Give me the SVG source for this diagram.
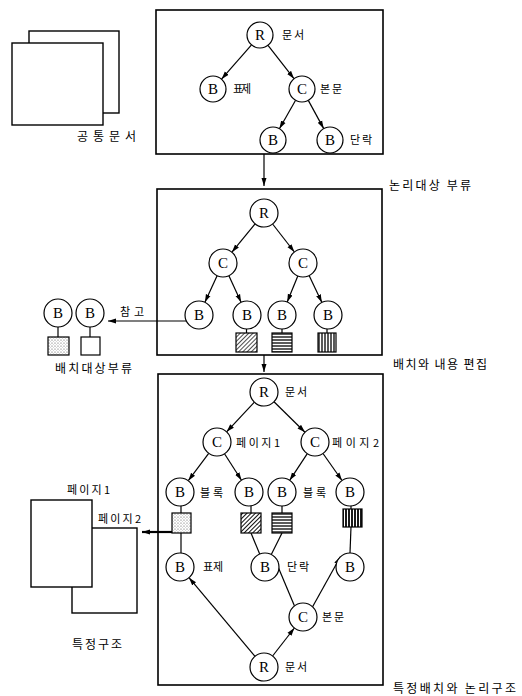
<svg xmlns="http://www.w3.org/2000/svg" width="522" height="696" viewBox="0 0 522 696">
<style>
.box{fill:none;stroke:#000;stroke-width:1.6}
.pg{fill:#fff;stroke:#000;stroke-width:1.4}
.nd{fill:#fff;stroke:#000;stroke-width:1.2}
.ed{fill:none;stroke:#000;stroke-width:1.2}
.ar{fill:none;stroke:#000;stroke-width:1.2;marker-end:url(#ah)}
.sq{stroke:#000;stroke-width:1.2}
.lt{font-family:"Liberation Serif",serif;font-size:15px;text-anchor:middle;dominant-baseline:central}
.kr{font-family:"Noto Sans CJK KR","Noto Sans",sans-serif;font-size:11px}
.kc{font-family:"Noto Sans CJK KR","Noto Sans",sans-serif;font-size:12px}
</style>
<defs>
<marker id="ah" viewBox="0 0 8 6" refX="8" refY="3" markerWidth="8" markerHeight="6" markerUnits="userSpaceOnUse" orient="auto"><path d="M0,0.5 L8,3 L0,5.5 z" fill="#000"/></marker>
<pattern id="diag" width="3" height="3" patternUnits="userSpaceOnUse" patternTransform="rotate(45)"><rect width="3" height="3" fill="#fff"/><line x1="0" y1="0" x2="0" y2="3" stroke="#000" stroke-width="1.4"/></pattern>
<pattern id="diag2" width="3" height="3" patternUnits="userSpaceOnUse" patternTransform="rotate(45)"><rect width="3" height="3" fill="#fff"/><line x1="0" y1="0" x2="0" y2="3" stroke="#000" stroke-width="1.9"/></pattern>
<pattern id="hs" width="4" height="3" patternUnits="userSpaceOnUse"><rect width="4" height="3" fill="#fff"/><line x1="0" y1="1" x2="4" y2="1" stroke="#000" stroke-width="1.3"/></pattern>
<pattern id="vs" width="3" height="4" patternUnits="userSpaceOnUse"><rect width="3" height="4" fill="#fff"/><line x1="1" y1="0" x2="1" y2="4" stroke="#000" stroke-width="1.3"/></pattern>
<pattern id="vs2" width="3" height="4" patternUnits="userSpaceOnUse"><rect width="3" height="4" fill="#fff"/><line x1="1" y1="0" x2="1" y2="4" stroke="#000" stroke-width="1.8"/></pattern>
<pattern id="dt" width="3" height="3" patternUnits="userSpaceOnUse"><rect width="3" height="3" fill="#fff"/><circle cx="1" cy="1" r="0.6" fill="#555"/><circle cx="2.4" cy="2.3" r="0.4" fill="#888"/></pattern>
</defs>

<g id="common-doc">
<rect class="pg" x="29" y="31" width="90" height="82"/>
<rect class="pg" x="12" y="43" width="91" height="82"/>
<text class="kc" x="77" y="141" textLength="59" lengthAdjust="spacing">공통문서</text>
</g>

<g id="box-top"><rect class="box" x="156" y="10" width="227" height="144"/></g>
<g id="box-mid"><rect class="box" x="157" y="189" width="225" height="166"/></g>
<g id="box-bot"><rect class="box" x="158" y="374" width="225" height="311"/></g>

<g id="connectors">
<line class="ar" x1="251.5" y1="44.8" x2="221.5" y2="79.2"/>
<line class="ar" x1="268" y1="45.3" x2="294" y2="78.7"/>
<line class="ar" x1="295.6" y1="100.3" x2="279.4" y2="128.7"/>
<line class="ar" x1="308.3" y1="100.4" x2="323.7" y2="128.6"/>
<line class="ar" x1="264" y1="154" x2="264" y2="186"/>
<line class="ar" x1="255.1" y1="223.8" x2="231.9" y2="252.2"/>
<line class="ar" x1="272.6" y1="224" x2="294.4" y2="252"/>
<line class="ar" x1="217.1" y1="275.7" x2="204.9" y2="302.3"/>
<line class="ar" x1="228.9" y1="275.7" x2="241.1" y2="302.3"/>
<line class="ar" x1="297.8" y1="276" x2="287.2" y2="302"/>
<line class="ar" x1="309.1" y1="275.6" x2="321.9" y2="302.4"/>
<line class="ed" x1="246.5" y1="329" x2="246.5" y2="333"/>
<line class="ed" x1="282" y1="329" x2="282" y2="333"/>
<line class="ed" x1="327" y1="329" x2="327" y2="333"/>
<line class="ar" x1="186.4" y1="321" x2="108" y2="321"/>
<line class="ar" x1="264" y1="355" x2="264" y2="372"/>
<line class="ed" x1="58" y1="327" x2="58" y2="337"/>
<line class="ed" x1="90" y1="327" x2="90" y2="337"/>
<line class="ar" x1="254.4" y1="402.2" x2="226.6" y2="431.8"/>
<line class="ar" x1="274" y1="401.8" x2="305" y2="432.2"/>
<line class="ar" x1="208.7" y1="453.3" x2="188.3" y2="480.7"/>
<line class="ar" x1="224.5" y1="453.8" x2="241.5" y2="480.2"/>
<line class="ar" x1="307.3" y1="453.7" x2="289.7" y2="480.3"/>
<line class="ar" x1="323" y1="453.5" x2="342" y2="480.5"/>
<line class="ed" x1="181" y1="506" x2="181" y2="513"/>
<line class="ed" x1="251" y1="506" x2="251" y2="513"/>
<line class="ed" x1="282" y1="506" x2="282" y2="513"/>
<line class="ed" x1="351" y1="506" x2="351" y2="509"/>
<line class="ed" x1="181" y1="533" x2="181" y2="553"/>
<line class="ed" x1="251" y1="533" x2="259.7" y2="554.1"/>
<line class="ed" x1="282" y1="533" x2="271.3" y2="554.5"/>
<line class="ed" x1="351" y1="527" x2="350" y2="553"/>
<line class="ar" x1="255" y1="656.3" x2="189" y2="577.7"/>
<line class="ar" x1="272.6" y1="656" x2="294.4" y2="628"/>
<line class="ar" x1="294.5" y1="605.9" x2="273.5" y2="555.9"/>
<line class="ar" x1="312.6" y1="606.8" x2="340.4" y2="556.8"/>
<line x1="172" y1="532" x2="142" y2="532" stroke="#000" stroke-width="2.2" marker-end="url(#ah)"/>
</g>

<g id="t-R"><circle class="nd" cx="260" cy="35" r="13"/><text class="lt" x="260" y="35">R</text><text class="kr" x="282" y="39" textLength="22" lengthAdjust="spacing">문서</text></g>
<g id="t-B1"><circle class="nd" cx="213" cy="89" r="13"/><text class="lt" x="213" y="89">B</text><text class="kr" x="233" y="93" textLength="18" lengthAdjust="spacing">표제</text></g>
<g id="t-C"><circle class="nd" cx="302" cy="89" r="13"/><text class="lt" x="302" y="89">C</text><text class="kr" x="320" y="93" textLength="22" lengthAdjust="spacing">본문</text></g>
<g id="t-B2"><circle class="nd" cx="273" cy="140" r="13"/><text class="lt" x="273" y="140">B</text></g>
<g id="t-B3"><circle class="nd" cx="330" cy="140" r="13"/><text class="lt" x="330" y="140">B</text><text class="kr" x="350" y="144" textLength="22" lengthAdjust="spacing">단락</text></g>
<g id="lbl-logic"><text class="kc" x="389" y="190" textLength="82" lengthAdjust="spacing">논리대상 부류</text></g>

<g id="m-R"><circle class="nd" cx="264" cy="213" r="14"/><text class="lt" x="264" y="213">R</text></g>
<g id="m-C1"><circle class="nd" cx="223" cy="263" r="14"/><text class="lt" x="223" y="263">C</text></g>
<g id="m-C2"><circle class="nd" cx="303" cy="263" r="14"/><text class="lt" x="303" y="263">C</text></g>
<g id="m-B1"><circle class="nd" cx="199" cy="315" r="14"/><text class="lt" x="199" y="315">B</text></g>
<g id="m-B2"><circle class="nd" cx="247" cy="315" r="14"/><text class="lt" x="247" y="315">B</text><rect class="sq" x="236" y="333" width="21" height="19" fill="url(#diag)"/></g>
<g id="m-B3"><circle class="nd" cx="282" cy="315" r="14"/><text class="lt" x="282" y="315">B</text><rect class="sq" x="272" y="333" width="20" height="19" fill="url(#hs)"/></g>
<g id="m-B4"><circle class="nd" cx="328" cy="315" r="14"/><text class="lt" x="328" y="315">B</text><rect class="sq" x="318" y="333" width="18" height="19" fill="url(#vs)"/></g>
<g id="lbl-ref"><text class="kr" x="120" y="316" textLength="24" lengthAdjust="spacing">참고</text></g>
<g id="lbl-edit"><text class="kc" x="393" y="369" textLength="94" lengthAdjust="spacing">배치와 내용 편집</text></g>

<g id="l-B1"><circle class="nd" cx="58" cy="313" r="14"/><text class="lt" x="58" y="313">B</text><rect class="sq" x="48" y="337" width="21" height="18" fill="url(#dt)"/></g>
<g id="l-B2"><circle class="nd" cx="90" cy="313" r="14"/><text class="lt" x="90" y="313">B</text><rect class="sq" x="81" y="337" width="19" height="18" fill="#fff"/></g>
<g id="lbl-layout"><text class="kc" x="55" y="373" textLength="77" lengthAdjust="spacing">배치대상부류</text></g>

<g id="b-R"><circle class="nd" cx="264" cy="392" r="14"/><text class="lt" x="264" y="392">R</text><text class="kr" x="285" y="396" textLength="22" lengthAdjust="spacing">문서</text></g>
<g id="b-C1"><circle class="nd" cx="217" cy="442" r="14"/><text class="lt" x="217" y="442">C</text><text class="kr" x="236" y="447" textLength="44" lengthAdjust="spacing">페이지1</text></g>
<g id="b-C2"><circle class="nd" cx="315" cy="442" r="14"/><text class="lt" x="315" y="442">C</text><text class="kr" x="332" y="447" textLength="47" lengthAdjust="spacing">페이지2</text></g>
<g id="b-B1"><circle class="nd" cx="180" cy="492" r="14"/><text class="lt" x="180" y="492">B</text><text class="kr" x="200" y="497" textLength="23" lengthAdjust="spacing">블록</text><rect class="sq" x="172" y="513" width="19" height="20" fill="url(#dt)"/></g>
<g id="b-B2"><circle class="nd" cx="249" cy="492" r="14"/><text class="lt" x="249" y="492">B</text><rect class="sq" x="241" y="513" width="20" height="20" fill="url(#diag2)"/></g>
<g id="b-B3"><circle class="nd" cx="282" cy="492" r="14"/><text class="lt" x="282" y="492">B</text><text class="kr" x="303" y="497" textLength="23" lengthAdjust="spacing">블록</text><rect class="sq" x="272" y="513" width="20" height="20" fill="url(#hs)"/></g>
<g id="b-B4"><circle class="nd" cx="350" cy="492" r="14"/><text class="lt" x="350" y="492">B</text><rect class="sq" x="343" y="509" width="19" height="18" fill="url(#vs2)"/></g>
<g id="b-B5"><circle class="nd" cx="180" cy="567" r="14"/><text class="lt" x="180" y="567">B</text><text class="kr" x="203" y="571" textLength="20" lengthAdjust="spacing">표제</text></g>
<g id="b-B6"><circle class="nd" cx="265" cy="567" r="14"/><text class="lt" x="265" y="567">B</text><text class="kr" x="287" y="571" textLength="22" lengthAdjust="spacing">단락</text></g>
<g id="b-B7"><circle class="nd" cx="350" cy="567" r="14"/><text class="lt" x="350" y="567">B</text></g>
<g id="b-C3"><circle class="nd" cx="303" cy="617" r="14"/><text class="lt" x="303" y="617">C</text><text class="kr" x="322" y="621" textLength="22" lengthAdjust="spacing">본문</text></g>
<g id="b-R2"><circle class="nd" cx="264" cy="667" r="14"/><text class="lt" x="264" y="667">R</text><text class="kr" x="285" y="671" textLength="22" lengthAdjust="spacing">문서</text></g>
<g id="lbl-specific"><text class="kc" x="393" y="693" textLength="123" lengthAdjust="spacing">특정배치와 논리구조</text></g>

<g id="specific-pages">
<rect class="pg" x="72" y="528" width="65" height="85"/>
<rect class="pg" x="31" y="500" width="61" height="87"/>
<text class="kr" x="67" y="494" textLength="43" lengthAdjust="spacing">페이지1</text>
<text class="kr" x="98" y="523" textLength="43" lengthAdjust="spacing">페이지2</text>
<text class="kc" x="72" y="649" textLength="50" lengthAdjust="spacing">특정구조</text>
</g>
</svg>
